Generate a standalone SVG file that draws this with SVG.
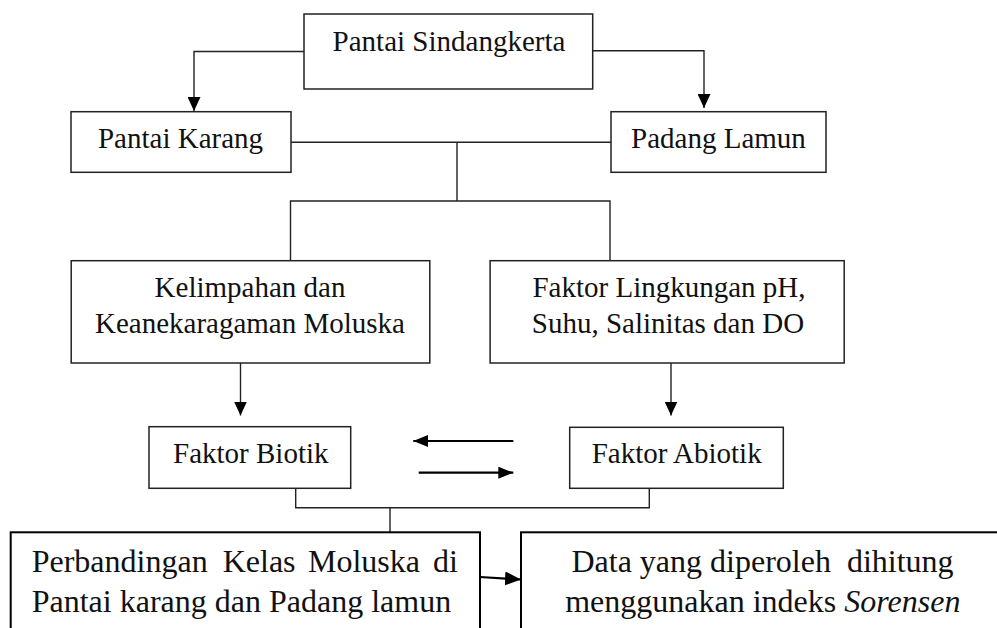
<svg xmlns="http://www.w3.org/2000/svg" width="997" height="628" viewBox="0 0 997 628">
  <style>
    .box { fill: #ffffff; stroke: #222222; stroke-width: 1.5; }
    .boxb { fill: #ffffff; stroke: #000000; stroke-width: 2; }
    .ln { fill: none; stroke: #222222; stroke-width: 1.4; }
    .lnb { fill: none; stroke: #000000; stroke-width: 2.2; }
    text { font-family: 'Liberation Serif', 'DejaVu Serif', serif; fill: #111111; }
    .t29 { font-size: 29px; text-anchor: middle; }
    .t32 { font-size: 32px; }
    .t32m { font-size: 32px; text-anchor: middle; white-space: pre; }
  </style>
  <defs>
    <marker id="arr" markerUnits="userSpaceOnUse" markerWidth="14" markerHeight="13" refX="14" refY="6.5" orient="auto">
      <path d="M0,0 L14,6.5 L0,13 z" fill="#000000"/>
    </marker>
    <marker id="arrS" markerUnits="userSpaceOnUse" markerWidth="15" markerHeight="12" refX="15" refY="6" orient="auto">
      <path d="M0,0 L15,6 L0,12 z" fill="#000000"/>
    </marker>
    <marker id="arrB" markerUnits="userSpaceOnUse" markerWidth="16" markerHeight="14" refX="16" refY="7" orient="auto">
      <path d="M0,0 L16,7 L0,14 z" fill="#000000"/>
    </marker>
  </defs>

  <g id="connectors">
    <path class="ln" d="M304,51.5 H194 V111" marker-end="url(#arr)"/>
    <path class="ln" d="M592.7,50.7 H704 V108" marker-end="url(#arr)"/>
    <path class="ln" d="M291,142.3 H611"/>
    <path class="ln" d="M457,142.3 V201"/>
    <path class="ln" d="M290.5,260.7 V201 H610 V260.7"/>
    <path class="ln" d="M240.5,363 V415.5" marker-end="url(#arr)"/>
    <path class="ln" d="M671,363 V415.5" marker-end="url(#arr)"/>
    <path class="lnb" d="M513.3,441 H413.3" marker-end="url(#arrS)"/>
    <path class="lnb" d="M418.7,472.7 H513.3" marker-end="url(#arrS)"/>
    <path class="ln" d="M295.7,488.3 V507.7 H649.3 V488.3"/>
    <path class="ln" d="M390,507.7 V532.3"/>
    <path class="lnb" d="M480,577 L521,579.5" marker-end="url(#arrB)"/>
  </g>

  <g id="node-pantai-sindangkerta">
    <rect class="box" x="304" y="14" width="288.7" height="75"/>
    <text class="t29" x="449" y="50.7">Pantai Sindangkerta</text>
  </g>

  <g id="node-pantai-karang">
    <rect class="box" x="71" y="111.7" width="220" height="60.6"/>
    <text class="t29" x="180.5" y="147.7">Pantai Karang</text>
  </g>

  <g id="node-padang-lamun">
    <rect class="box" x="611" y="111.7" width="215" height="60.6"/>
    <text class="t29" x="718.5" y="147.7">Padang Lamun</text>
  </g>

  <g id="node-kelimpahan">
    <rect class="box" x="71.2" y="260.7" width="358.6" height="102.3"/>
    <text class="t29" x="250" y="296.7">Kelimpahan dan</text>
    <text class="t29" x="250" y="332.7">Keanekaragaman Moluska</text>
  </g>

  <g id="node-faktor-lingkungan">
    <rect class="box" x="490.1" y="260.7" width="354.1" height="102.3"/>
    <text class="t29" x="669" y="296.7">Faktor Lingkungan pH,</text>
    <text class="t29" x="668" y="332.7">Suhu, Salinitas dan DO</text>
  </g>

  <g id="node-faktor-biotik">
    <rect class="box" x="149" y="426.7" width="201.7" height="61.6"/>
    <text class="t29" x="250.8" y="462.7">Faktor Biotik</text>
  </g>

  <g id="node-faktor-abiotik">
    <rect class="box" x="569.7" y="427.3" width="213.6" height="61"/>
    <text class="t29" x="676.7" y="462.7">Faktor Abiotik</text>
  </g>

  <g id="node-perbandingan">
    <rect class="boxb" x="10.7" y="532.3" width="469.3" height="110"/>
    <text class="t32" y="571.7"><tspan x="31.7">Perbandingan</tspan><tspan x="222.7">Kelas</tspan><tspan x="308">Moluska</tspan><tspan x="433">di</tspan></text>
    <text class="t32" x="31.7" y="611.7">Pantai karang dan Padang lamun</text>
  </g>

  <g id="node-data">
    <rect class="boxb" x="521" y="532.3" width="490" height="110"/>
    <text class="t32m" x="762.5" y="571.7">Data yang diperoleh  dihitung</text>
    <text class="t32m" x="762.8" y="611.7">menggunakan indeks <tspan font-style="italic">Sorensen</tspan></text>
  </g>
</svg>
